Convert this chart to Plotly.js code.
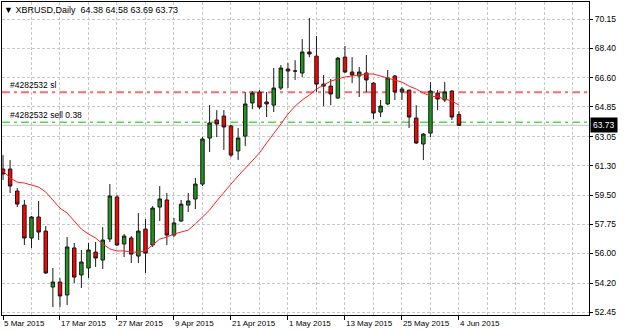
<!DOCTYPE html>
<html><head><meta charset="utf-8">
<script src="https://cdn.plot.ly/plotly-3.0.1.min.js"></script>
<style>html,body{margin:0;padding:0;background:#fff}#chart{width:625px;height:331px}</style>
</head><body><div id="chart"></div>
<script>
const symbol = 'XBRUSD,Daily';
const open = [61.09,61.09,59.76,58.91,56.92,58.19,57.34,53.96,54.26,53.48,
  56.32,54.69,55.11,56.07,55.59,56.86,59.40,56.56,56.92,55.83,
  57.46,56.50,58.79,59.22,57.10,57.95,58.91,59.28,60.18,62.96,
  64.05,64.29,63.69,62.18,63.08,65.08,65.74,65.14,64.95,65.98,
  67.13,67.01,66.89,68.16,67.91,66.22,66.10,65.38,67.85,66.95,
  66.71,66.89,66.28,64.53,65.02,66.71,65.74,65.86,64.17,62.60,
  63.26,65.68,65.26,65.80,64.38];
const high = [61.93,61.63,59.94,59.22,58.25,59.16,57.65,55.11,54.50,56.98,
  56.62,56.20,56.62,56.68,57.58,60.18,59.52,57.16,57.04,58.43,
  58.07,58.85,60.06,59.64,58.13,59.22,59.64,60.55,63.02,64.95,
  64.65,64.65,63.75,63.57,65.74,65.80,65.86,65.74,67.19,67.37,
  67.49,67.67,68.94,70.21,69.12,66.77,66.53,67.85,68.52,67.85,
  67.25,67.98,66.34,65.26,67.07,66.77,66.04,65.86,64.95,63.26,
  66.34,65.86,66.34,65.86,64.58];
const low = [60.42,59.64,58.79,56.50,56.32,56.80,54.75,52.75,52.75,52.87,
  54.20,53.90,54.50,55.17,55.05,56.68,56.44,55.77,55.41,55.41,
  54.81,56.38,57.95,56.50,56.98,57.89,58.49,58.67,60.06,62.12,
  63.02,62.24,61.81,61.63,62.48,64.71,64.71,64.23,64.53,65.86,
  65.98,66.47,66.65,67.85,65.74,64.89,64.95,65.33,66.89,66.28,
  65.44,65.74,64.11,64.23,64.95,65.26,65.26,63.57,62.60,61.63,
  63.02,64.65,65.14,64.05,63.69];
const close = [60.79,60.06,58.97,56.92,58.19,57.28,54.81,54.26,53.42,56.38,
  54.56,55.47,56.20,55.71,56.80,59.46,56.50,57.04,55.95,57.34,
  56.01,58.73,59.28,57.10,57.83,58.97,59.16,60.18,62.90,63.87,
  63.81,63.63,61.93,62.96,65.02,65.68,64.83,65.02,65.98,67.19,
  67.01,67.01,68.16,68.04,66.22,66.10,65.62,67.79,66.95,66.77,
  66.95,66.47,64.47,64.89,66.59,65.74,65.92,64.23,62.66,63.20,
  65.80,65.32,65.74,64.23,63.73];
const ma = [60.97,60.55,60.30,60.24,60.12,60.00,59.70,59.22,58.73,58.43,
  57.95,57.46,57.16,56.92,56.56,56.26,56.14,56.14,56.07,56.07,
  56.14,56.50,56.86,56.98,57.16,57.28,57.40,57.77,58.19,58.61,
  59.16,59.64,60.18,60.67,61.15,61.63,62.06,62.66,63.20,63.81,
  64.41,64.89,65.26,65.56,65.92,66.16,66.40,66.53,66.65,66.71,
  66.77,66.83,66.83,66.71,66.59,66.47,66.34,66.10,65.92,65.68,
  65.50,65.44,65.32,65.20,64.95];
const dateLabels = ['5 Mar 2015','17 Mar 2015','27 Mar 2015','9 Apr 2015','21 Apr 2015','1 May 2015','13 May 2015','25 May 2015','4 Jun 2015'];
const priceTicks = ['70.15','68.40','66.60','64.85','63.05','61.30','59.50','57.75','56.00','54.20','52.45'];
const orderId = '#4282532';
const slPrice = 65.73;
const sellPrice = 63.92;
const sellLots = '0.38';
const bid = 63.73;

const n = open.length;
const bars = open.map((_, i) => i);
const labelEvery = 8;
const tickIdx = dateLabels.map((_, k) => k * labelEvery);
const last = n - 1;

const FONT = 'Liberation Sans, Arial, sans-serif';
const gridStyle = {gridcolor:'#c8c8c8', griddash:'3px,2px', gridwidth:1};
const dashDot = '8px,4px,3px,4px';

const traces = [
  {type:'candlestick', x:bars, open:open, high:high, low:low, close:close,
   increasing:{fillcolor:'#1e961e', line:{color:'#1a1a1a', width:1}},
   decreasing:{fillcolor:'#ff0000', line:{color:'#1a1a1a', width:1}},
   whiskerwidth:0, hoverinfo:'skip', showlegend:false},
  {type:'scatter', mode:'lines', x:bars, y:ma, line:{color:'#ff2020', width:1},
   hoverinfo:'skip', showlegend:false}
];

const layout = {
  width:625, height:331,
  margin:{l:2, r:36, t:2, b:16, pad:0},
  paper_bgcolor:'#ffffff', plot_bgcolor:'#ffffff',
  showlegend:false,
  font:{family:FONT, size:8, color:'#000'},
  title:{text:'\u25BC ' + symbol + '\u00a0\u00a0' + [open[last], high[last], low[last], close[last]].map(v=>v.toFixed(2)).join(' '),
    x:4/625, xref:'container', xanchor:'left', y:1-10/331, yref:'container', yanchor:'middle',
    font:{family:FONT, size:9, color:'#000'}},
  xaxis:{range:[-0.14, 82.25], tickmode:'array', tickvals:tickIdx, ticktext:dateLabels,
    ticks:'outside', ticklen:4, tickcolor:'#000', ticklabelposition:'outside right',
    showgrid:true, ...gridStyle,
    minor:{tickmode:'linear', tick0:0, dtick:4, showgrid:true, ...gridStyle, ticks:''},
    showline:true, linecolor:'#000', linewidth:1, mirror:true, zeroline:false,
    rangeslider:{visible:false}, tickfont:{family:FONT, size:8, color:'#000'}, fixedrange:true},
  yaxis:{side:'right', range:[52.27, 71.18], tickmode:'array', tickvals:priceTicks.map(Number), ticktext:priceTicks,
    ticks:'outside', ticklen:3, tickcolor:'#000', showgrid:true, ...gridStyle,
    showline:true, linecolor:'#000', linewidth:1, mirror:true, zeroline:false,
    tickfont:{family:FONT, size:8.5, color:'#000'}, fixedrange:true},
  shapes:[
    {type:'line', layer:'between', xref:'paper', x0:0, x1:1, yref:'y', y0:bid, y1:bid, line:{color:'#c4c4c4', width:1}},
    {type:'line', layer:'between', xref:'paper', x0:0, x1:1, yref:'y', y0:slPrice, y1:slPrice, line:{color:'rgba(255,70,70,0.8)', width:2, dash:dashDot}},
    {type:'line', layer:'between', xref:'paper', x0:0, x1:1, yref:'y', y0:sellPrice, y1:sellPrice, line:{color:'#00c000', width:1, dash:dashDot}}
  ],
  annotations:[
    {xref:'paper', x:0.01, xanchor:'left', yref:'y', y:slPrice, yanchor:'bottom', yshift:0,
     text:orderId + ' sl', showarrow:false, font:{family:FONT, size:8.5, color:'#000'}},
    {xref:'paper', x:0.01, xanchor:'left', yref:'y', y:sellPrice, yanchor:'bottom', yshift:0,
     text:orderId + ' sell ' + sellLots, showarrow:false, font:{family:FONT, size:8.5, color:'#000'}},
    {xref:'paper', x:1, xanchor:'left', xshift:1, yref:'y', y:bid, yanchor:'middle',
     text:bid.toFixed(2), showarrow:false, bgcolor:'#000', borderpad:2,
     font:{family:FONT, size:8.5, color:'#fff'}}
  ]
};

Plotly.newPlot('chart', traces, layout, {staticPlot:true, displayModeBar:false});
</script>
</body></html>
